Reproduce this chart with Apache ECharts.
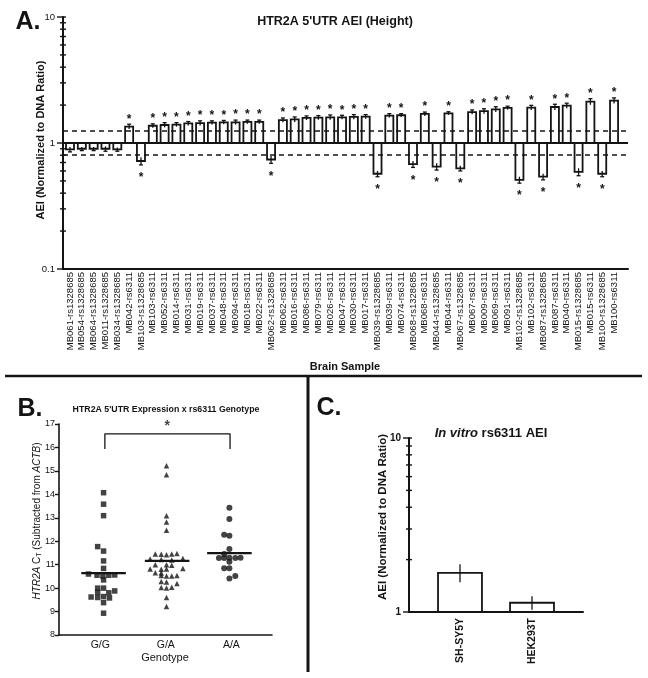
<!DOCTYPE html>
<html><head><meta charset="utf-8">
<script src="https://cdn.jsdelivr.net/npm/echarts@6/dist/echarts.min.js"></script>
<style>html,body{margin:0;padding:0;background:#fff}#c{width:648px;height:678px}</style>
</head><body><div id="c"></div>
<script>
// ---------- Panel A data ----------
const A_CATEGORIES = [
  'MB061-rs1328685','MB054-rs1328685','MB064-rs1328685','MB011-rs1328685','MB034-rs1328685',
  'MB042-rs6311','MB103-rs1328685','MB103-rs6311','MB052-rs6311','MB014-rs6311',
  'MB031-rs6311','MB019-rs6311','MB037-rs6311','MB048-rs6311','MB094-rs6311',
  'MB018-rs6311','MB022-rs6311','MB062-rs1328685','MB062-rs6311','MB016-rs6311',
  'MB086-rs6311','MB079-rs6311','MB026-rs6311','MB047-rs6311','MB030-rs6311',
  'MB017-rs6311','MB039-rs1328685','MB039-rs6311','MB074-rs6311','MB068-rs1328685',
  'MB068-rs6311','MB044-rs1328685','MB044-rs6311','MB067-rs1328685','MB067-rs6311',
  'MB009-rs6311','MB069-rs6311','MB091-rs6311','MB102-rs1328685','MB102-rs6311',
  'MB087-rs1328685','MB087-rs6311','MB040-rs6311','MB015-rs1328685','MB015-rs6311',
  'MB100-rs1328685','MB100-rs6311'
];
const A_AEI = [
  0.89,0.90,0.90,0.90,0.89,
  1.35,0.72,1.37,1.39,1.40,
  1.43,1.44,1.45,1.46,1.46,
  1.47,1.47,0.74,1.52,1.54,
  1.58,1.59,1.60,1.60,1.61,
  1.62,0.57,1.65,1.66,0.68,
  1.70,0.65,1.72,0.63,1.76,
  1.79,1.85,1.90,0.51,1.91,
  0.54,1.93,1.98,0.59,2.13,
  0.57,2.17
];
const A_SE = [
  0.04,0.03,0.03,0.04,0.03,
  0.06,0.05,0.05,0.06,0.05,
  0.05,0.06,0.05,0.05,0.06,
  0.05,0.05,0.05,0.06,0.07,
  0.06,0.06,0.07,0.06,0.07,
  0.06,0.03,0.06,0.05,0.04,
  0.06,0.04,0.05,0.03,0.07,
  0.08,0.09,0.06,0.03,0.08,
  0.03,0.10,0.09,0.04,0.12,
  0.03,0.11
];
const A_SIGNIFICANT = [
  0,0,0,0,0,
  1,1,1,1,1, 1,1,1,1,1, 1,1,1,1,1, 1,1,1,1,1,
  1,1,1,1,1, 1,1,1,1,1, 1,1,1,1,1, 1,1,1,1,1,
  1,1
];
const A_THRESHOLDS = [0.8, 1.25];
const A_MAJOR_TICKS = [0.1, 1, 10];
const A_MINOR_TICKS = [0.2,0.3,0.4,0.5,0.6,0.7,0.8,0.9,2,3,4,5,6,7,8,9];

// ---------- Panel B data ----------
const B_GENOTYPES = ['G/G', 'G/A', 'A/A'];
const B_GG = [
  [1.05,14.07],[1.05,13.58],[1.05,13.09],[0.96,11.77],[1.05,11.58],[1.05,11.16],
  [1.05,10.84],[0.82,10.60],[0.95,10.55],[1.04,10.52],[1.13,10.55],[1.22,10.56],
  [1.05,10.35],[0.96,10.00],[1.05,10.00],[1.22,9.88],[0.96,9.82],[1.13,9.80],
  [0.86,9.62],[0.96,9.60],[1.05,9.64],[1.14,9.58],[1.05,9.38],[1.05,8.93]
];
const B_GA = [
  [2.01,15.22],[2.01,14.84],[2.01,13.09],[2.01,12.82],[2.01,12.47],
  [1.84,11.46],[1.93,11.44],[2.01,11.42],[2.09,11.46],[2.17,11.48],
  [1.76,11.24],[1.93,11.22],[2.09,11.20],[2.26,11.26],
  [1.84,11.00],[2.01,11.00],[2.09,10.98],
  [1.76,10.82],[1.93,10.80],[2.01,10.82],[2.26,10.84],
  [1.84,10.66],[1.93,10.64],
  [1.93,10.54],[2.01,10.52],[2.09,10.52],[2.17,10.54],
  [1.93,10.28],[2.01,10.26],[2.17,10.20],
  [1.93,10.03],[2.01,10.00],[2.09,10.04],
  [2.01,9.60],[2.01,9.22]
];
const B_AA = [
  [2.97,13.43],[2.97,12.95],[2.89,12.28],[2.97,12.23],[2.97,11.67],[2.89,11.46],
  [2.81,11.28],[2.89,11.28],[2.97,11.30],[3.06,11.28],[3.14,11.30],
  [2.97,11.12],[2.89,10.85],[2.97,10.85],[3.06,10.52],[2.97,10.41]
];
const B_MEDIANS = [10.64, 11.16, 11.49];
const B_MEDIAN_X = [1.05, 2.02, 2.97];
const B_BRACKET = [[1.07,15.93],[1.07,16.58],[2.98,16.58],[2.98,15.93]];
const B_STAR = [2.02, 16.9];

// ---------- Panel C data ----------
const C_CELLS = ['SH-SY5Y', 'HEK293T'];
const C_AEI = [1.68, 1.13];
const C_SE = [0.20, 0.10];
const C_MAJOR_TICKS = [1, 10];
const C_MINOR_TICKS = [2,3,4,5,6,7,8,9];

// ---------- helpers ----------
const FONT = 'Liberation Sans, Arial, Helvetica, sans-serif';
const INK = '#141414';
const A_X_MIN = 0.408, A_X_MAX = 48.18;
const B_X_MIN = 0.37, B_X_MAX = 3.62;
const C_X_MIN = 0.292, C_X_MAX = 2.708;

function tickRenderer(params, api) {
  const p = api.coord([api.value(0), api.value(1)]);
  const major = api.value(2);
  return { type: 'line', shape: { x1: p[0] - (major ? 6 : 3), y1: p[1], x2: p[0] + 3, y2: p[1] },
           style: { stroke: INK, lineWidth: 1.4 } };
}
function makeBarRenderer(halfUnits, withCap, lw) {
  return function (params, api) {
    const x = api.value(0), v = api.value(1), e = api.value(2), sig = api.value(3);
    const base = api.coord([x, 1]);
    const top = api.coord([x, v]);
    const half = (api.coord([x + halfUnits, 1])[0] - api.coord([x - halfUnits, 1])[0]) / 2;
    const up = v >= 1;
    const outer = api.coord([x, up ? v + e : v - e]);
    const inner = api.coord([x, up ? v - e : v + e]);
    const children = [
      { type: 'rect', shape: { x: base[0] - half, y: Math.min(base[1], top[1]), width: half * 2, height: Math.abs(base[1] - top[1]) },
        style: { fill: '#fff', stroke: INK, lineWidth: lw } },
      { type: 'line', shape: { x1: base[0], y1: inner[1], x2: base[0], y2: outer[1] }, style: { stroke: INK, lineWidth: 1.3 } }
    ];
    if (withCap) {
      children.push({ type: 'line', shape: { x1: base[0] - half * 0.5, y1: outer[1], x2: base[0] + half * 0.5, y2: outer[1] },
        style: { stroke: INK, lineWidth: 1.3 } });
    }
    if (sig) {
      children.push({ type: 'text', x: base[0], y: outer[1] + (up ? -5 : 13),
        style: { text: '*', font: 'bold 12px ' + FONT, align: 'center', verticalAlign: 'middle', fill: INK } });
    }
    return { type: 'group', children: children };
  };
}
function medianRenderer(params, api) {
  const a = api.coord([api.value(0) - 0.34, api.value(1)]);
  const b = api.coord([api.value(0) + 0.34, api.value(1)]);
  return { type: 'line', shape: { x1: a[0], y1: a[1], x2: b[0], y2: b[1] }, style: { stroke: INK, lineWidth: 2.2 } };
}

const aTicks = A_MAJOR_TICKS.map(v => [A_X_MIN, v, 1]).concat(A_MINOR_TICKS.map(v => [A_X_MIN, v, 0]));
const cTicks = C_MAJOR_TICKS.map(v => [C_X_MIN, v, 1]).concat(C_MINOR_TICKS.map(v => [C_X_MIN, v, 0]));

const chart = echarts.init(document.getElementById('c'), null, { renderer: 'canvas' });
const axisLbl = { color: INK, fontFamily: FONT };

const option = {
  backgroundColor: '#fff',
  animation: false,
  grid: [
    { left: 63, top: 17, width: 565, height: 252 },
    { left: 59, top: 424, width: 213, height: 211 },
    { left: 409, top: 438, width: 174, height: 174 }
  ],
  xAxis: [
    { gridIndex: 0, type: 'value', min: A_X_MIN, max: A_X_MAX,
      axisLine: { show: true, onZero: false, lineStyle: { color: INK, width: 2 } },
      axisTick: { show: false }, splitLine: { show: false },
      axisLabel: Object.assign({}, axisLbl, { customValues: A_CATEGORIES.map((c, i) => i + 1),
        formatter: v => A_CATEGORIES[Math.round(v) - 1] || '', rotate: 90, fontSize: 9.5, margin: 3 }) },
    { gridIndex: 1, type: 'value', min: B_X_MIN, max: B_X_MAX,
      axisLine: { show: true, onZero: false, lineStyle: { color: INK, width: 1.6 } },
      axisTick: { show: false }, splitLine: { show: false },
      axisLabel: Object.assign({}, axisLbl, { customValues: [1, 2, 3],
        formatter: v => B_GENOTYPES[Math.round(v) - 1] || '', fontSize: 10.5, margin: 5 }) },
    { gridIndex: 2, type: 'value', min: C_X_MIN, max: C_X_MAX,
      axisLine: { show: true, onZero: false, lineStyle: { color: INK, width: 2 } },
      axisTick: { show: false }, splitLine: { show: false },
      axisLabel: Object.assign({}, axisLbl, { customValues: [1, 2],
        formatter: v => C_CELLS[Math.round(v) - 1] || '', rotate: 90, fontSize: 10.5, fontWeight: 'bold', margin: 6 }) }
  ],
  yAxis: [
    { gridIndex: 0, type: 'log', logBase: 10, min: 0.1, max: 10,
      axisLine: { show: true, onZero: false, lineStyle: { color: INK, width: 2 } },
      axisTick: { show: false }, splitLine: { show: false },
      axisLabel: Object.assign({}, axisLbl, { fontSize: 9.5, margin: 8, formatter: v => String(v) }) },
    { gridIndex: 1, type: 'value', min: 8, max: 17, interval: 1,
      axisLine: { show: true, onZero: false, lineStyle: { color: INK, width: 1.6 } },
      axisTick: { show: true, length: 4, lineStyle: { color: INK, width: 1.4 } }, splitLine: { show: false },
      axisLabel: Object.assign({}, axisLbl, { fontSize: 9, margin: 4 }) },
    { gridIndex: 2, type: 'log', logBase: 10, min: 1, max: 10,
      axisLine: { show: true, onZero: false, lineStyle: { color: INK, width: 2 } },
      axisTick: { show: false }, splitLine: { show: false },
      axisLabel: Object.assign({}, axisLbl, { fontSize: 10, fontWeight: 'bold', margin: 8, formatter: v => String(v) }) }
  ],
  series: [
    { type: 'custom', name: 'AEI', xAxisIndex: 0, yAxisIndex: 0, silent: true,
      data: A_AEI.map((v, i) => [i + 1, v, A_SE[i], A_SIGNIFICANT[i]]),
      encode: { x: 0, y: 1 },
      renderItem: makeBarRenderer(0.34, true, 1.8),
      markLine: { silent: true, symbol: 'none', label: { show: false },
        data: [
          { yAxis: 1, lineStyle: { color: INK, width: 2, type: 'solid' } },
          { yAxis: A_THRESHOLDS[1], lineStyle: { color: INK, width: 1.5, type: [5, 4] } },
          { yAxis: A_THRESHOLDS[0], lineStyle: { color: INK, width: 1.5, type: [5, 4] } }
        ] } },
    { type: 'custom', xAxisIndex: 0, yAxisIndex: 0, silent: true, data: aTicks, encode: { x: 0, y: 1 }, renderItem: tickRenderer },
    { type: 'scatter', xAxisIndex: 1, yAxisIndex: 1, silent: true, data: B_GG, symbol: 'rect', symbolSize: 5.5, itemStyle: { color: INK } },
    { type: 'scatter', xAxisIndex: 1, yAxisIndex: 1, silent: true, data: B_GA, symbol: 'triangle', symbolSize: 5.5, itemStyle: { color: INK } },
    { type: 'scatter', xAxisIndex: 1, yAxisIndex: 1, silent: true, data: B_AA, symbol: 'circle', symbolSize: 6, itemStyle: { color: INK } },
    { type: 'custom', xAxisIndex: 1, yAxisIndex: 1, silent: true, data: B_MEDIANS.map((m, i) => [B_MEDIAN_X[i], m]),
      encode: { x: 0, y: 1 }, renderItem: medianRenderer },
    { type: 'line', xAxisIndex: 1, yAxisIndex: 1, silent: true, data: B_BRACKET, symbol: 'none',
      lineStyle: { color: INK, width: 1.3 } },
    { type: 'scatter', xAxisIndex: 1, yAxisIndex: 1, silent: true, data: [B_STAR], symbolSize: 0,
      label: { show: true, position: 'inside', formatter: '*', fontSize: 14, fontWeight: 'bold', color: INK, fontFamily: FONT } },
    { type: 'custom', name: 'in vitro', xAxisIndex: 2, yAxisIndex: 2, silent: true,
      data: C_AEI.map((v, i) => [i + 1, v, C_SE[i], 0]),
      encode: { x: 0, y: 1 }, renderItem: makeBarRenderer(0.305, false, 1.8) },
    { type: 'custom', xAxisIndex: 2, yAxisIndex: 2, silent: true, data: cTicks, encode: { x: 0, y: 1 }, renderItem: tickRenderer }
  ],
  graphic: [
    { type: 'text', x: 28, y: 22, style: { text: 'A.', font: 'bold 25px ' + FONT, fill: INK, align: 'center', verticalAlign: 'middle' } },
    { type: 'text', x: 30, y: 409, style: { text: 'B.', font: 'bold 25px ' + FONT, fill: INK, align: 'center', verticalAlign: 'middle' } },
    { type: 'text', x: 329, y: 408, style: { text: 'C.', font: 'bold 25px ' + FONT, fill: INK, align: 'center', verticalAlign: 'middle' } },
    { type: 'text', x: 335, y: 22, style: { text: "HTR2A 5'UTR AEI (Height)", font: 'bold 12.5px ' + FONT, fill: INK, align: 'center', verticalAlign: 'middle' } },
    { type: 'text', x: 41, y: 140, rotation: Math.PI / 2,
      style: { text: 'AEI (Normalized to DNA Ratio)', font: 'bold 11px ' + FONT, fill: INK, align: 'center', verticalAlign: 'middle' } },
    { type: 'text', x: 345, y: 367, style: { text: 'Brain Sample', font: 'bold 11px ' + FONT, fill: INK, align: 'center', verticalAlign: 'middle' } },
    { type: 'line', shape: { x1: 5, y1: 376, x2: 642, y2: 376 }, style: { stroke: INK, lineWidth: 2.5 } },
    { type: 'line', shape: { x1: 308, y1: 376, x2: 308, y2: 672 }, style: { stroke: INK, lineWidth: 3 } },
    { type: 'text', x: 166, y: 410, style: { text: "HTR2A 5'UTR Expression x rs6311 Genotype", font: 'bold 8.8px ' + FONT, fill: INK, align: 'center', verticalAlign: 'middle' } },
    { type: 'text', x: 37, y: 521, rotation: Math.PI / 2,
      style: { text: '{i|HTR2A} C{s|T} (Subtracted from {i|ACTB})', fontSize: 10, fontFamily: FONT, fill: INK, align: 'center', verticalAlign: 'middle',
        rich: { i: { fontStyle: 'italic', fontSize: 10, fontFamily: FONT, fill: INK },
                s: { fontSize: 7, fontFamily: FONT, fill: INK, verticalAlign: 'bottom', padding: [4, 0, 0, 0] } } } },
    { type: 'text', x: 165, y: 658, style: { text: 'Genotype', font: '11px ' + FONT, fill: INK, align: 'center', verticalAlign: 'middle' } },
    { type: 'text', x: 491, y: 433,
      style: { text: '{i|In vitro} rs6311 AEI', font: 'bold 13px ' + FONT, fill: INK, align: 'center', verticalAlign: 'middle',
        rich: { i: { fontStyle: 'italic', fontWeight: 'bold', fontSize: 13, fontFamily: FONT, fill: INK } } } },
    { type: 'text', x: 383, y: 517, rotation: Math.PI / 2,
      style: { text: 'AEI (Normalized to DNA Ratio)', font: 'bold 11.5px ' + FONT, fill: INK, align: 'center', verticalAlign: 'middle' } }
  ]
};
chart.setOption(option);
</script></body></html>
